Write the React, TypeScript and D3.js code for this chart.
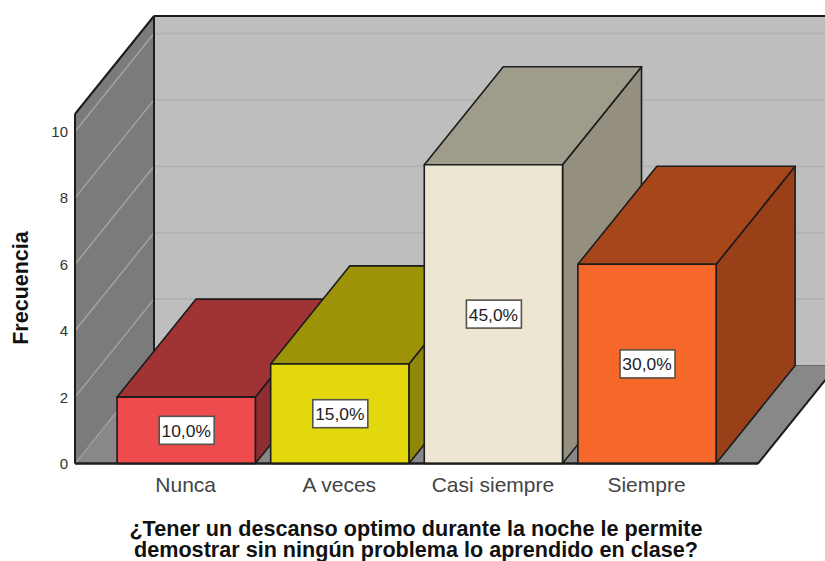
import React from "react";
import * as d3 from "d3";

const categories = ["Nunca", "A veces", "Casi siempre", "Siempre"];
const counts = [2, 3, 9, 6];
const percentLabels = ["10,0%", "15,0%", "45,0%", "30,0%"];
const frontColors = ["#ee4b4e", "#e3d80c", "#ece6d2", "#f5682a"];
const topColors = ["#a03334", "#9c9308", "#a09c8b", "#a6461a"];
const sideColors = ["#8f2e30", "#8f8708", "#948f7f", "#9a4018"];
const yTicks = [0, 2, 4, 6, 8, 10];
const xTitleLines = [
  "¿Tener un descanso optimo durante la noche le permite",
  "demostrar sin ningún problema lo aprendido en clase?",
];
const yTitle = "Frecuencia";

const W = 825;
const H = 561;
const FONT = "'Liberation Sans', Arial, sans-serif";
const STROKE = "#1c1c1c";

export default function App() {
  const y = d3.scaleLinear().domain([0, 10]).range([463.5, 131.5]);
  const x = d3
    .scaleBand<string>()
    .domain(categories)
    .range([109.4, 723.8])
    .paddingInner(0.1)
    .paddingOuter(0.05);
  const dx = 79;
  const dy = -98;
  const left = 75;
  const floorRight = 758;
  const wallRight = floorRight + dx;
  const base = y(0);
  const wallTop = 16;
  const poly = d3.line();

  return (
    <svg
      width={W}
      height={H}
      viewBox={`0 0 ${W} ${H}`}
      style={{ position: "fixed", left: 0, top: 0, background: "#fff", fontFamily: FONT }}
    >
      <rect x={left + dx} y={wallTop} width={wallRight - left - dx} height={base + dy - wallTop} fill="#bebebe" />
      <path
        d={poly([[left, base], [left, wallTop - dy], [left + dx, wallTop], [left + dx, base + dy]])! + "Z"}
        fill="#7b7b7b"
      />
      <path
        d={poly([[left, base], [floorRight, base], [wallRight, base + dy], [left + dx, base + dy]])! + "Z"}
        fill="#888888"
      />
      {yTicks.map((t) => (
        <g key={t} fill="none">
          {t > 0 && (
            <line x1={left + dx} x2={wallRight} y1={y(t) + dy} y2={y(t) + dy} stroke="#b1b1b1" strokeWidth={1.8} />
          )}
          <line
            x1={left}
            y1={y(t)}
            x2={left + dx}
            y2={y(t) + dy}
            stroke="#a4a4a4"
            strokeWidth={1.4}
            strokeDasharray={t === 0 ? "2 1" : undefined}
          />
        </g>
      ))}
      <g fill="none" stroke={STROKE} strokeWidth={2}>
        <line x1={left + dx} x2={wallRight} y1={wallTop} y2={wallTop} />
        <line x1={left + dx} x2={left + dx} y1={wallTop} y2={base + dy} />
        <line x1={left} x2={left + dx} y1={wallTop - dy} y2={wallTop} />
        <line x1={left} x2={left} y1={wallTop - dy} y2={base} />
        <line x1={left} x2={floorRight} y1={base} y2={base} />
        <line x1={floorRight} x2={wallRight} y1={base} y2={base + dy} />
        <line x1={left + dx} x2={wallRight} y1={base + dy} y2={base + dy} strokeWidth={1} stroke="#6a6a6a" />
      </g>
      {categories.map((c, i) => {
        const x0 = x(c)!;
        const bw = x.bandwidth();
        const yTop = y(counts[i]);
        return (
          <g key={c} stroke={STROKE} strokeWidth={1.6} strokeLinejoin="round">
            <path
              d={poly([[x0 + bw, yTop], [x0 + bw + dx, yTop + dy], [x0 + bw + dx, base + dy], [x0 + bw, base]])! + "Z"}
              fill={sideColors[i]}
            />
            <path
              d={poly([[x0, yTop], [x0 + dx, yTop + dy], [x0 + bw + dx, yTop + dy], [x0 + bw, yTop]])! + "Z"}
              fill={topColors[i]}
            />
            <rect x={x0} y={yTop} width={bw} height={base - yTop} fill={frontColors[i]} />
          </g>
        );
      })}
      <line x1={left} x2={floorRight} y1={base} y2={base} stroke={STROKE} strokeWidth={2} />
      {categories.map((c, i) => {
        const cx = x(c)! + x.bandwidth() / 2;
        const cy = (y(counts[i]) + base) / 2;
        return (
          <g key={c}>
            <rect x={cx - 27} y={cy - 14} width={55} height={28} fill="#fff" stroke="#55534a" strokeWidth={1.6} />
            <text x={cx} y={cy + 6.5} textAnchor="middle" fontSize={17.4} fill="#222">
              {percentLabels[i]}
            </text>
          </g>
        );
      })}
      {yTicks.map((t) => (
        <text key={t} x={68} y={y(t) + 5.5} textAnchor="end" fontSize={15} fill="#333">
          {t}
        </text>
      ))}
      {categories.map((c) => (
        <text
          key={c}
          x={x(c)! + x.bandwidth() / 2 - 0.5}
          y={492}
          textAnchor="middle"
          fontSize={21}
          fill="#444"
        >
          {c}
        </text>
      ))}
      <text
        transform="translate(28,288) rotate(-90)"
        textAnchor="middle"
        fontSize={21.5}
        fontWeight="bold"
        fill="#111"
      >
        {yTitle}
      </text>
      {xTitleLines.map((l, i) => (
        <text key={l} x={416} y={535.5 + i * 21} textAnchor="middle" fontSize={21.6} fontWeight="bold" fill="#111">
          {l}
        </text>
      ))}
    </svg>
  );
}
